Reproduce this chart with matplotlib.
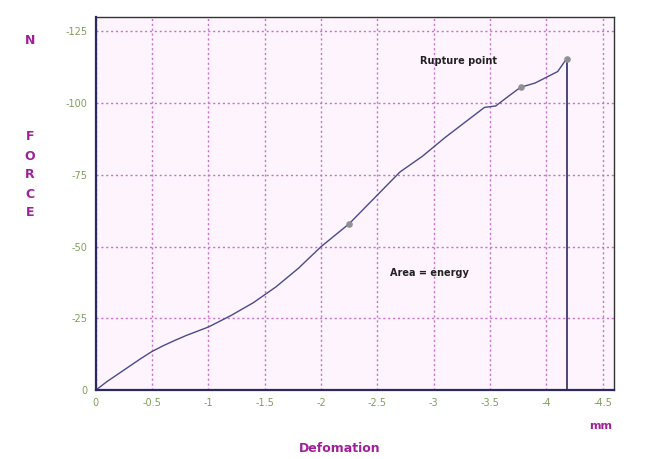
import matplotlib.pyplot as plt
import numpy as np

# deformation (mm, shown as negative) and force (N, shown as negative)
deform = [0, 0.1, 0.25, 0.4, 0.5, 0.6, 0.7, 0.8, 1.0, 1.2, 1.4, 1.6, 1.8, 2.0, 2.25,
          2.5, 2.7, 2.9, 3.1, 3.3, 3.45, 3.55, 3.65, 3.77, 3.9, 4.0, 4.1, 4.18]
force = [0, 3, 7, 11, 13.5, 15.5, 17.3, 19, 22, 26, 30.5, 36, 42.5, 50, 58,
         68, 76, 81.5, 88, 94, 98.5, 99, 102, 105.5, 107, 109, 111, 115.5]
marker_x = [2.25, 3.77, 4.18]
marker_y = [58, 105.5, 115.5]

x_ticks = [0, 0.5, 1, 1.5, 2, 2.5, 3, 3.5, 4, 4.5]
x_labels = ["0", "-0.5", "-1", "-1.5", "-2", "-2.5", "-3", "-3.5", "-4", "-4.5"]
y_ticks = [0, 25, 50, 75, 100, 125]
y_labels = ["0", "-25", "-50", "-75", "-100", "-125"]

purple = "#a0209a"
tick_green = "#7f9f5a"
grid_col = "#c870cc"

fig = plt.figure(figsize=(6.56, 4.59), dpi=100)
ax = fig.add_axes([0.146, 0.150, 0.790, 0.813])
ax.set_facecolor("#fdf4fd")

ax.plot(deform, force, color="#4a4a8c", linewidth=1.0)
ax.plot([deform[-1], deform[-1]], [force[-1], 0], color="#2a2a60", linewidth=1.2)
ax.scatter(marker_x, marker_y, s=14, color="#909090", zorder=3)

ax.set_xlim(0, 4.6)
ax.set_ylim(0, 130)
ax.set_xticks(x_ticks)
ax.set_xticklabels(x_labels)
ax.set_yticks(y_ticks)
ax.set_yticklabels(y_labels)
ax.tick_params(colors=tick_green, labelsize=7, length=0, pad=6)

ax.grid(True, color=grid_col, linestyle=(0, (1.5, 2)), linewidth=1.0)
ax.set_axisbelow(True)
for s in ["left", "bottom"]:
    ax.spines[s].set_color("#2a2a60")
    ax.spines[s].set_linewidth(1.6)
for s in ["top", "right"]:
    ax.spines[s].set_color("#333333")
    ax.spines[s].set_linewidth(1.0)

ax.text(2.88, 114.5, "Rupture point", fontsize=7, fontweight="bold", color="#222222",
        va="center")
ax.text(2.61, 40.8, "Area = energy", fontsize=7, fontweight="bold", color="#222222",
        va="center")

fig.text(30 / 656, 1 - 40 / 459, "N", color=purple, fontsize=9, fontweight="bold",
         ha="center", va="center")
for i, ch in enumerate("FORCE"):
    fig.text(30 / 656, 1 - (137 + i * 19) / 459, ch, color=purple, fontsize=9,
             fontweight="bold", ha="center", va="center")
fig.text(340 / 656, 1 - 449 / 459, "Defomation", color=purple, fontsize=9,
         fontweight="bold", ha="center", va="center")
fig.text(601 / 656, 1 - 426 / 459, "mm", color=purple, fontsize=8,
         fontweight="bold", ha="center", va="center")

fig.savefig("out.png", dpi=100)
